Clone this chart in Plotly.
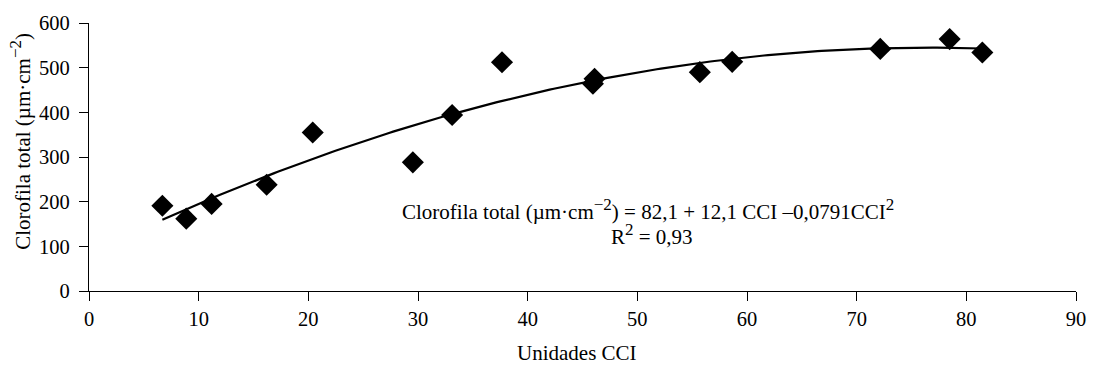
import numpy as np
import plotly.graph_objects as go

# Data
cci = [6.69, 8.87, 11.18, 16.2, 20.4, 29.53, 33.11, 37.66, 46.1, 45.95, 55.7, 58.65, 72.15, 78.48, 81.46]
clorofila = [191, 162, 195, 238, 355, 288, 394, 512, 475, 464, 490, 513, 542, 564, 534]

# Fitted quadratic shown on the chart
coef_a, coef_b, coef_c = 82.1, 12.1, -0.0791

x_ticks = [0, 10, 20, 30, 40, 50, 60, 70, 80, 90]
y_ticks = [0, 100, 200, 300, 400, 500, 600]

SUP = '<sup><span style="font-size:17px">{}</span></sup>'
eq_text = "Clorofila total (µm·cm" + SUP.format("−2") + ") = 82,1 + 12,1 CCI –0,0791CCI" + SUP.format("2")
r2_text = "R" + SUP.format("2") + " = 0,93"
x_title = "Unidades CCI"
y_title = "Clorofila total (µm·cm" + SUP.format("−2") + ")"

FONT = "'Times New Roman', 'Liberation Serif', Tinos, serif"

fit_x = np.linspace(min(cci), max(cci), 200)
fit_y = coef_a + coef_b * fit_x + coef_c * fit_x ** 2

fig = go.Figure()
fig.add_trace(go.Scatter(x=fit_x, y=fit_y, mode="lines",
                         line=dict(color="black", width=2.2), hoverinfo="skip"))
fig.add_trace(go.Scatter(x=cci, y=clorofila, mode="markers",
                         marker=dict(symbol="diamond", size=17, color="black",
                                     line=dict(width=0))))

fig.update_layout(
    width=1100, height=368,
    margin=dict(l=89, r=24, t=18, b=77),
    paper_bgcolor="white", plot_bgcolor="white",
    showlegend=False,
    font=dict(family=FONT, size=20, color="black"),
    xaxis=dict(range=[0, 90], tickvals=x_ticks, showgrid=False, zeroline=False,
               showline=True, linecolor="black", linewidth=1.3,
               ticks="outside", ticklen=9, tickwidth=1.3, tickcolor="black",
               tickfont=dict(family=FONT, size=20.5, color="black")),
    yaxis=dict(range=[0, 600], tickvals=y_ticks, showgrid=False, zeroline=False,
               showline=True, linecolor="black", linewidth=1.3,
               ticks="outside", ticklen=9, tickwidth=1.3, tickcolor="black",
               ticklabelstandoff=5,
               tickfont=dict(family=FONT, size=20.5, color="black")),
    annotations=[
        dict(text=eq_text, x=50.94, y=182, xref="x", yref="y",
             showarrow=False, xanchor="center", yanchor="middle",
             font=dict(family=FONT, size=21, color="black")),
        dict(text=r2_text, x=51.3, y=127, xref="x", yref="y",
             showarrow=False, xanchor="center", yanchor="middle",
             font=dict(family=FONT, size=21, color="black")),
        dict(text=x_title, x=0.4948, y=-0.232, xref="paper", yref="paper",
             showarrow=False, xanchor="center", yanchor="middle",
             font=dict(family=FONT, size=21, color="black")),
        dict(text=y_title, x=-0.069, y=0.56, xref="paper", yref="paper",
             showarrow=False, xanchor="center", yanchor="middle", textangle=-90,
             font=dict(family=FONT, size=21, color="black")),
    ],
)

fig.write_html("out.html")
